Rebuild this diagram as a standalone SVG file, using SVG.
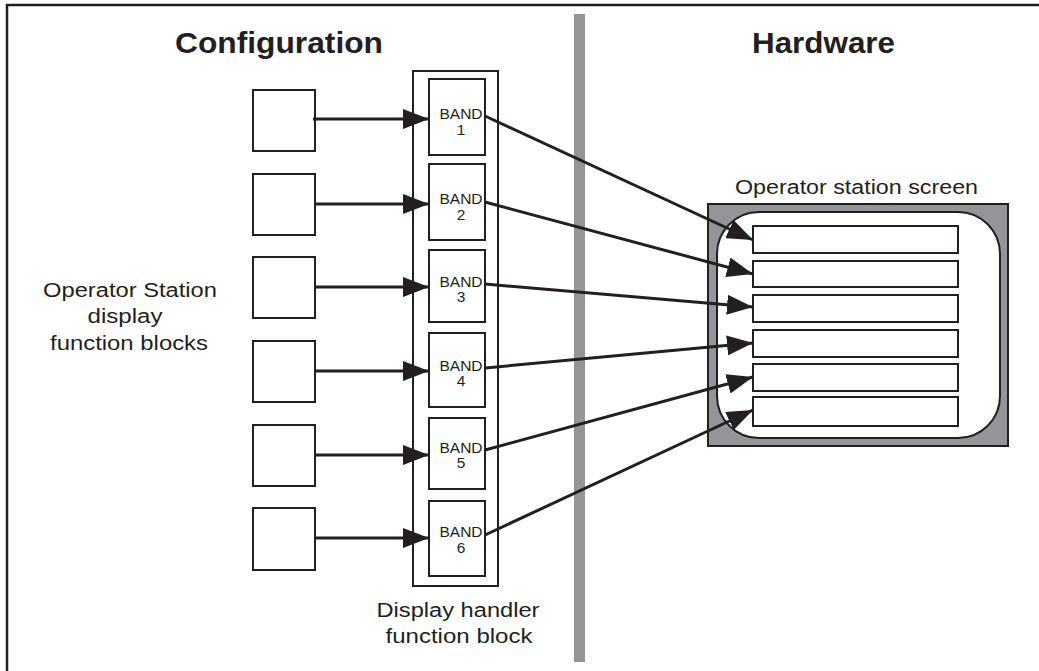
<svg xmlns="http://www.w3.org/2000/svg" width="1039" height="671" viewBox="0 0 1039 671">
<defs>
<style>
.bx{fill:#fff;stroke:#231f20;stroke-width:2}
.ln{stroke:#231f20;stroke-width:3;fill:none}
.t{font-family:"Liberation Sans",Arial,sans-serif;fill:#231f20;text-anchor:middle}
.h{font-size:30px;font-weight:bold}
.lbl{font-size:20px}
.band{font-size:15.5px}
</style>
<marker id="ah" markerUnits="userSpaceOnUse" markerWidth="26" markerHeight="20" refX="26" refY="10" orient="auto">
<path d="M0,0 L26,10 L0,20 z" fill="#231f20"/>
</marker>
</defs>
<rect width="1039" height="671" fill="#fff"/>
<g id="frame">
<path d="M7,671 V5 H1039" fill="none" stroke="#231f20" stroke-width="2.5"/>
<rect x="574" y="14" width="11" height="648" fill="#939598"/>
</g>
<g id="titles">
<text class="t h" x="279" y="53" textLength="208" lengthAdjust="spacingAndGlyphs">Configuration</text>
<text class="t h" x="823.5" y="53" textLength="143" lengthAdjust="spacingAndGlyphs">Hardware</text>
</g>
<g id="os-label">
<text class="t lbl" x="130" y="297" textLength="174" lengthAdjust="spacingAndGlyphs">Operator Station</text>
<text class="t lbl" x="125" y="323" textLength="75" lengthAdjust="spacingAndGlyphs">display</text>
<text class="t lbl" x="129" y="350" textLength="158" lengthAdjust="spacingAndGlyphs">function blocks</text>
</g>
<g id="os-blocks">
<rect class="bx" x="253" y="90" width="62" height="61"/>
<rect class="bx" x="253" y="174" width="62" height="61"/>
<rect class="bx" x="253" y="257" width="62" height="61"/>
<rect class="bx" x="253" y="341" width="62" height="61"/>
<rect class="bx" x="253" y="425" width="62" height="61"/>
<rect class="bx" x="253" y="508" width="62" height="62"/>
</g>
<g id="display-handler">
<rect class="bx" x="413" y="71" width="85" height="515"/>
<text class="t lbl" x="458" y="617" textLength="163" lengthAdjust="spacingAndGlyphs">Display handler</text>
<text class="t lbl" x="459" y="643" textLength="147" lengthAdjust="spacingAndGlyphs">function block</text>
</g>
<g id="band1"><rect class="bx" x="429" y="79" width="56" height="76"/><text class="t band" x="461" y="119">BAND</text><text class="t band" x="461" y="135">1</text></g>
<g id="band2"><rect class="bx" x="429" y="164" width="56" height="76"/><text class="t band" x="461" y="204">BAND</text><text class="t band" x="461" y="220">2</text></g>
<g id="band3"><rect class="bx" x="429" y="250" width="56" height="72"/><text class="t band" x="461" y="287">BAND</text><text class="t band" x="461" y="302">3</text></g>
<g id="band4"><rect class="bx" x="429" y="333" width="56" height="74"/><text class="t band" x="461" y="371">BAND</text><text class="t band" x="461" y="386">4</text></g>
<g id="band5"><rect class="bx" x="429" y="418" width="56" height="71"/><text class="t band" x="461" y="453">BAND</text><text class="t band" x="461" y="468">5</text></g>
<g id="band6"><rect class="bx" x="429" y="501" width="56" height="75"/><text class="t band" x="461" y="537">BAND</text><text class="t band" x="461" y="553">6</text></g>
<g id="screen">
<text class="t lbl" x="856.5" y="194" textLength="243" lengthAdjust="spacingAndGlyphs">Operator station screen</text>
<rect x="708" y="204" width="300" height="242" fill="#939598" stroke="#231f20" stroke-width="2"/>
<rect class="bx" x="717" y="212" width="283" height="226" rx="42" ry="42"/>
<rect class="bx" x="753" y="226" width="205" height="27"/>
<rect class="bx" x="753" y="261" width="205" height="26"/>
<rect class="bx" x="753" y="295" width="205" height="27"/>
<rect class="bx" x="753" y="330" width="205" height="27"/>
<rect class="bx" x="753" y="364" width="205" height="27"/>
<rect class="bx" x="753" y="397" width="205" height="29"/>
</g>
<g id="connectors">
<line class="ln" x1="313" y1="119" x2="429" y2="119" marker-end="url(#ah)"/>
<line class="ln" x1="315" y1="204" x2="429" y2="204" marker-end="url(#ah)"/>
<line class="ln" x1="315" y1="287" x2="429" y2="287" marker-end="url(#ah)"/>
<line class="ln" x1="315" y1="371" x2="429" y2="371" marker-end="url(#ah)"/>
<line class="ln" x1="315" y1="455" x2="429" y2="455" marker-end="url(#ah)"/>
<line class="ln" x1="315" y1="538" x2="429" y2="538" marker-end="url(#ah)"/>
<line class="ln" x1="485" y1="116" x2="753" y2="240" marker-end="url(#ah)"/>
<line class="ln" x1="485" y1="202" x2="753" y2="274" marker-end="url(#ah)"/>
<line class="ln" x1="485" y1="284" x2="753" y2="307" marker-end="url(#ah)"/>
<line class="ln" x1="485" y1="368" x2="753" y2="343" marker-end="url(#ah)"/>
<line class="ln" x1="485" y1="450" x2="753" y2="377" marker-end="url(#ah)"/>
<line class="ln" x1="485" y1="535" x2="753" y2="410" marker-end="url(#ah)"/>
</g>
</svg>
